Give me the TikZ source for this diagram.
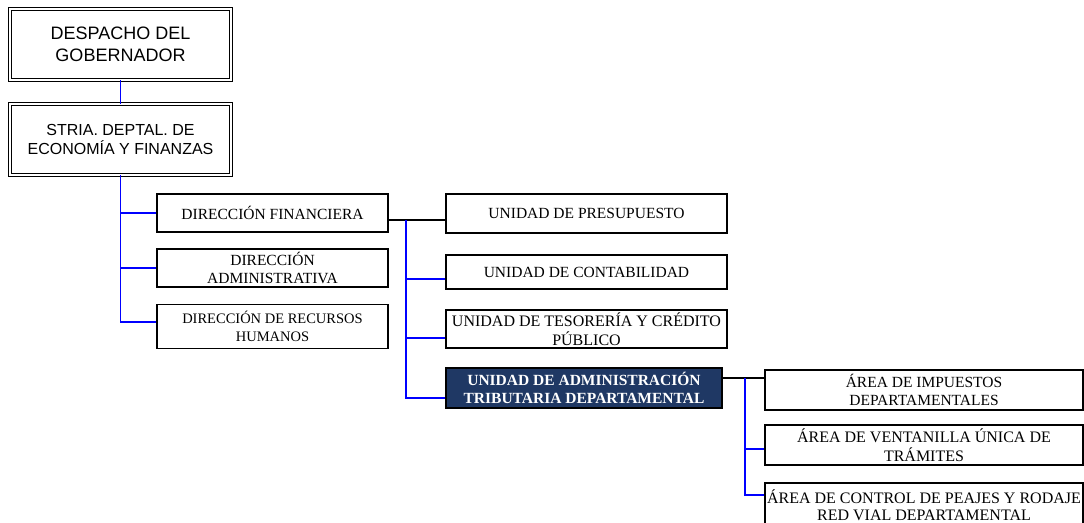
\documentclass[tikz,border=0pt]{standalone}
\usepackage{fontspec}
\setmainfont{Liberation Serif}
\newfontfamily\arialfont{Liberation Sans}
\definecolor{azul}{RGB}{0,0,255}
\definecolor{marino}{RGB}{31,56,100}
\begin{document}
\begin{tikzpicture}[x=1pt, y=-1pt,
    caja/.style={draw, line width=1.5pt, align=center, inner sep=0pt,
        minimum width=231pt, minimum height=38pt,
        font=\fontsize{15.5}{18.5}\selectfont},
    cajadoble/.style={draw, double, line width=0.8pt, double distance=2.2pt,
        align=center, inner sep=0pt, minimum width=221pt, minimum height=71pt},
    azulline/.style={azul, line width=1.8pt},
    negroline/.style={black, line width=1.8pt}]
    % 画布大小
    \useasboundingbox (0,0) rectangle (1084,522);

    % 上层 (双线框)
    \node[cajadoble, font=\arialfont\fontsize{18}{21.5}\selectfont] (desp) at (120.5,44.5) {DESPACHO DEL\\GOBERNADOR};
    \node[cajadoble, font=\arialfont\fontsize{16}{18.5}\selectfont] (stria) at (120.5,139.5) {STRIA. DEPTAL. DE\\ECONOMÍA Y FINANZAS};

    % 各个 Dirección
    \node[caja] (dfin) at (272.5,213) {DIRECCIÓN FINANCIERA};
    \node[caja] (dadm) at (272.5,268) {DIRECCIÓN\\ADMINISTRATIVA};
    \node[caja, minimum height=44pt, font=\fontsize{14.5}{18}\selectfont] (drh) at (272.5,326.5) {DIRECCIÓN DE RECURSOS\\HUMANOS};

    % 各个 Unidad
    \node[caja, minimum width=281pt, minimum height=39pt] (upre) at (586.5,213.5) {UNIDAD DE PRESUPUESTO};
    \node[caja, minimum width=281pt, minimum height=34pt] (ucon) at (586.5,272) {UNIDAD DE CONTABILIDAD};
    \node[caja, minimum width=281pt, font=\fontsize{16}{18.5}\selectfont] (utes) at (586.5,329) {UNIDAD DE TESORERÍA Y CRÉDITO\\PÚBLICO};
    \node[caja, minimum width=276pt, minimum height=40pt, fill=marino, text=white,
        font=\bfseries\fontsize{15.5}{18.5}\selectfont] (uadm) at (584,388) {UNIDAD DE ADMINISTRACIÓN\\TRIBUTARIA DEPARTAMENTAL};

    % 各个 Área
    \node[caja, minimum width=318pt, minimum height=40pt] (aimp) at (924,390) {ÁREA DE IMPUESTOS\\DEPARTAMENTALES};
    \node[caja, minimum width=318pt, minimum height=40pt, font=\fontsize{16}{18.5}\selectfont] (aven) at (924,445) {ÁREA DE VENTANILLA ÚNICA DE\\TRÁMITES};
    \node[caja, minimum width=318pt, minimum height=44pt, font=\fontsize{16}{17}\selectfont] (acon) at (924,505) {ÁREA DE CONTROL DE PEAJES Y RODAJE\\RED VIAL DEPARTAMENTAL};

    % 连线
    \draw[azulline] (desp.south) -- (stria.south |- stria.north);
    \draw[azulline] (stria.south) |- (dfin.west);
    \draw[azulline] (stria.south) |- (dadm.west);
    \draw[azulline] (stria.south) |- ([yshift=4.5pt]drh.west);

    \coordinate (j1) at (406,220);
    \draw[negroline] ([yshift=-7pt]dfin.east) -- ([yshift=-6.5pt]upre.west);
    \draw[azulline] (j1) |- ([yshift=-7pt]ucon.west);
    \draw[azulline] (j1) |- ([yshift=-9pt]utes.west);
    \draw[azulline] (j1) |- ([yshift=-10pt]uadm.west);

    \coordinate (j2) at (745,378);
    \draw[negroline] ([yshift=10pt]uadm.east) -- ([yshift=12pt]aimp.west);
    \draw[azulline] (j2) |- ([yshift=-4pt]aven.west);
    \draw[azulline] (j2) |- ([yshift=10pt]acon.west);
\end{tikzpicture}
\end{document}
